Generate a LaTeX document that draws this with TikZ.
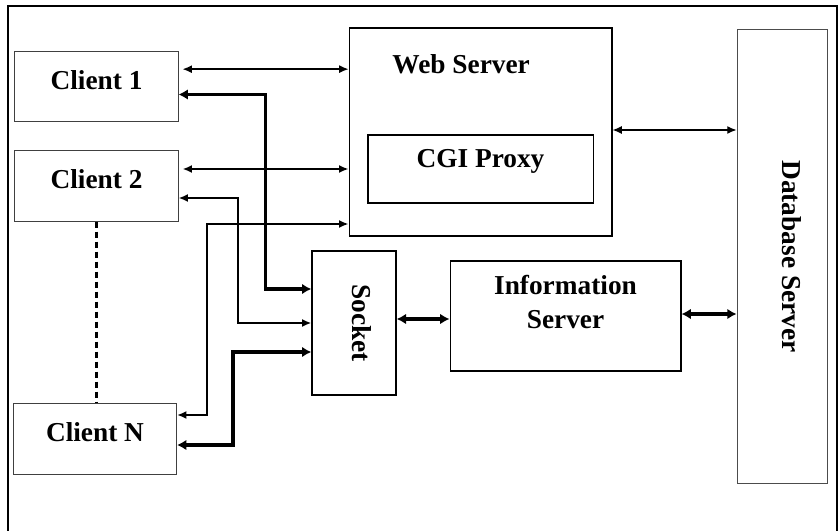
\documentclass[tikz,border=0pt]{standalone}
\usepackage{fontspec}
\setmainfont{Liberation Serif}
\usetikzlibrary{arrows.meta}
\tikzset{
    box_text/.style = {font=\bfseries\fontsize{20.5}{25.5}\selectfont},
    box/.style = {box_text, rectangle, draw=black, inner sep=0pt, align=center},
    client_node/.style = {box, draw=black!75, line width=0.6pt, minimum width=122.5pt, minimum height=53pt, text depth=10pt},
    server_node/.style = {box, line width=1pt},
    db_node/.style = {box, draw=black!70, line width=0.6pt, rotate=-90, minimum width=341pt, minimum height=67.5pt, text depth=15.5pt},
    thin_link/.style = {<->, line width=1pt},
    mid_link/.style = {<->, line width=1.4pt},
    thick_link/.style = {<->, line width=2.6pt, >={Latex[length=7pt,width=8pt]}},
    dash_link/.style = {line width=1.9pt, dash pattern=on 5pt off 2.5pt}
}

\begin{document}
\begin{tikzpicture}
    [x=0.75pt, y=-0.75pt,
    >={Latex[length=7pt,width=6pt]}]

    \useasboundingbox (0,0) rectangle (838,531);
    \draw[line width=1pt] (8,6) rectangle (837,545);

    % clients
    \node (client1) [client_node] at (96.5,86.5) {Client 1};
    \node (client2) [client_node] at (96.5,186) {Client 2};
    \node (clientN) [client_node] at (95,439) {Client N};

    % servers
    \node (web) [server_node, minimum width=197pt, minimum height=156pt,
        label={[box_text, anchor=base, xshift=-14.5pt, yshift=-34.5pt]north:Web Server}] at (480.5,132) {};
    \node (cgi) [server_node, minimum width=169pt, minimum height=51pt, text depth=15.5pt] at (480.5,169) {CGI Proxy};
    \node (socket) [server_node, rotate=-90, minimum width=108pt, minimum height=63pt, text depth=12pt] at (354,323) {Socket};
    \node (info) [server_node, minimum width=173pt, minimum height=82.5pt, text depth=21.5pt] at (565.5,316) {Information\\Server};
    \node (db) [db_node] at (782,256.5) {Database Server};

    % links
    \draw[dash_link] (client2.south) -- (client2.south |- clientN.north);
    \draw[thin_link, shorten <=3pt] ([yshift=13pt]client1.east) coordinate (c1a) -- (c1a -| web.west);
    \draw[thick_link] ([yshift=-6pt]client1.east) -- ++(87,0) |- ([yshift=25.5pt]socket.south);
    \draw[mid_link, shorten <=3pt] ([yshift=12.75pt]client2.east) coordinate (c2a) -- (c2a -| web.west);
    \draw[mid_link] ([yshift=-9pt]client2.east) -- ++(59,0) |- (socket.south);
    \draw[mid_link] ([yshift=18pt]clientN.east) -- ++(30,0) |- ([yshift=-69pt]web.west);
    \draw[thick_link] ([yshift=-4.5pt]clientN.east) -- ++(56,0) |- ([yshift=-21.75pt]socket.south);
    \draw[thin_link] ([yshift=1.5pt]web.east) coordinate (wa) -- (wa -| db.south);
    \draw[thick_link] ([yshift=3pt]socket.north) coordinate (sa) -- (sa -| info.west);
    \draw[thick_link] ([yshift=1.5pt]info.east) coordinate (ia) -- (ia -| db.south);
\end{tikzpicture}
\end{document}
